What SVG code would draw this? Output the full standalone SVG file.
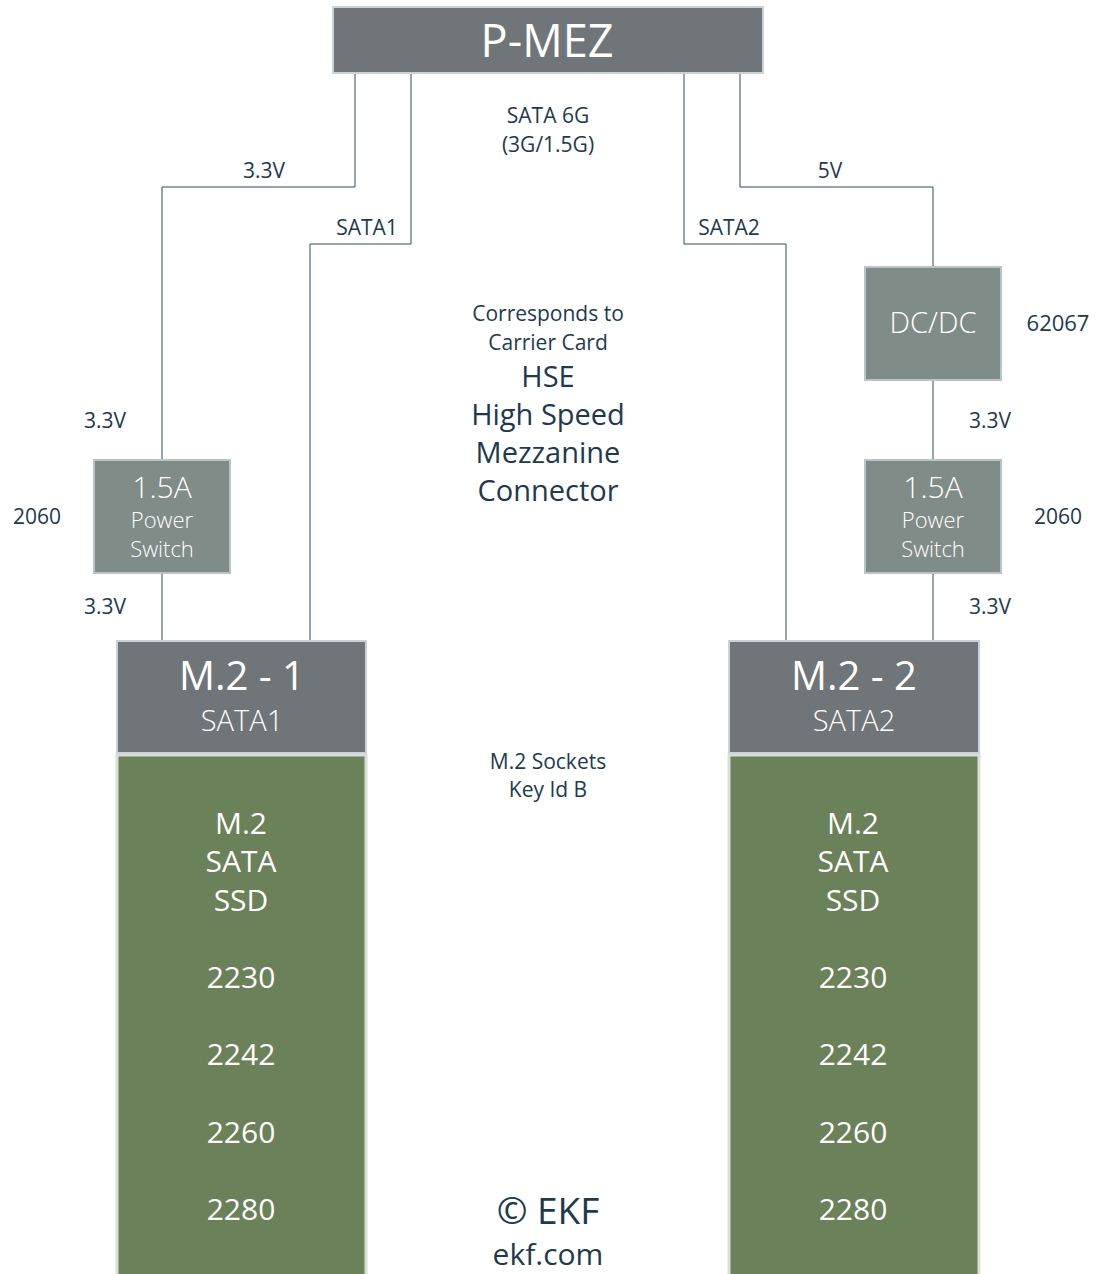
<svg xmlns="http://www.w3.org/2000/svg" width="1098" height="1274" viewBox="0 0 1098 1274">
<style>
.t{font-family:"Open Sans","Noto Sans",sans-serif;fill:#1e3a4f;text-anchor:middle}
.w{font-family:"Open Sans","Noto Sans",sans-serif;fill:#ffffff;text-anchor:middle}
.l{font-weight:300}
.hdr{fill:#6f7578;stroke:#c9d2d7;stroke-width:2}
.box{fill:#7f8c87;stroke:#b9c4c8;stroke-width:2}
.grn{fill:#6a815a;stroke:#d7dfd9;stroke-width:3}
.ln{fill:none;stroke:#2c4a5e;stroke-width:1}
</style>
<rect width="1098" height="1274" fill="#ffffff"/>
<g id="connectors">
<polyline class="ln" points="355,74 355,187 162,187 162,460"/>
<polyline class="ln" points="411,74 411,244 310,244 310,641"/>
<polyline class="ln" points="684,74 684,244 786,244 786,641"/>
<polyline class="ln" points="740,74 740,187 933,187 933,267"/>
<line class="ln" x1="933" y1="380" x2="933" y2="460"/>
<line class="ln" x1="162" y1="573" x2="162" y2="641"/>
<line class="ln" x1="933" y1="573" x2="933" y2="641"/>
</g>
<g id="pmez">
<rect class="hdr" x="333" y="7" width="430" height="66"/>
<text class="w" x="547" y="57" font-size="45">P-MEZ</text>
</g>
<g id="labels">
<text class="t" x="264" y="178" font-size="21">3.3V</text>
<text class="t" x="367" y="235" font-size="21">SATA1</text>
<text class="t" x="548" y="123" font-size="21">SATA 6G</text>
<text class="t" x="548" y="152" font-size="21">(3G/1.5G)</text>
<text class="t" x="729" y="235" font-size="21">SATA2</text>
<text class="t" x="830" y="178" font-size="21">5V</text>
<text class="t" x="1058" y="331" font-size="22">62067</text>
<text class="t" x="990" y="428" font-size="21">3.3V</text>
<text class="t" x="105" y="428" font-size="21">3.3V</text>
<text class="t" x="37" y="524" font-size="21">2060</text>
<text class="t" x="1058" y="524" font-size="21">2060</text>
<text class="t" x="105" y="614" font-size="21">3.3V</text>
<text class="t" x="990" y="614" font-size="21">3.3V</text>
<text class="t" x="548" y="321" font-size="21">Corresponds to</text>
<text class="t" x="548" y="350" font-size="21">Carrier Card</text>
<text class="t" x="548" y="387" font-size="29">HSE</text>
<text class="t" x="548" y="425" font-size="29">High Speed</text>
<text class="t" x="548" y="463" font-size="29">Mezzanine</text>
<text class="t" x="548" y="501" font-size="29">Connector</text>
<text class="t" x="548" y="769" font-size="21">M.2 Sockets</text>
<text class="t" x="548" y="797" font-size="21">Key Id B</text>
<text class="t" x="548" y="1224" font-size="37">© EKF</text>
<text class="t" x="548" y="1265" font-size="30">ekf.com</text>
</g>
<g id="dcdc">
<rect class="box" x="865" y="267" width="136" height="113"/>
<text class="w l" x="933" y="333" font-size="29">DC/DC</text>
</g>
<g id="ps1">
<rect class="box" x="94" y="460" width="136" height="113"/>
<text class="w l" x="162" y="498" font-size="30">1.5A</text>
<text class="w l" x="162" y="528" font-size="22">Power</text>
<text class="w l" x="162" y="557" font-size="22">Switch</text>
</g>
<g id="ps2">
<rect class="box" x="865" y="460" width="136" height="113"/>
<text class="w l" x="933" y="498" font-size="30">1.5A</text>
<text class="w l" x="933" y="528" font-size="22">Power</text>
<text class="w l" x="933" y="557" font-size="22">Switch</text>
</g>
<g id="m2-1">
<rect class="hdr" x="117" y="641" width="249" height="112"/>
<text class="w" x="242" y="690" font-size="40">M.2 - 1</text>
<text class="w l" x="242" y="731" font-size="29">SATA1</text>
</g>
<g id="ssd1">
<rect class="grn" x="117" y="755" width="249" height="530"/>
<text class="w" x="241" y="834" font-size="30">M.2</text>
<text class="w" x="241" y="872" font-size="30">SATA</text>
<text class="w" x="241" y="911" font-size="30">SSD</text>
<text class="w" x="241" y="988" font-size="30">2230</text>
<text class="w" x="241" y="1065" font-size="30">2242</text>
<text class="w" x="241" y="1143" font-size="30">2260</text>
<text class="w" x="241" y="1220" font-size="30">2280</text>
</g>
<g id="m2-2">
<rect class="hdr" x="729" y="641" width="250" height="112" stroke-width="3"/>
<text class="w" x="854" y="690" font-size="40">M.2 - 2</text>
<text class="w l" x="854" y="731" font-size="29">SATA2</text>
</g>
<g id="ssd2">
<rect class="grn" x="729" y="755" width="250" height="530"/>
<text class="w" x="853" y="834" font-size="30">M.2</text>
<text class="w" x="853" y="872" font-size="30">SATA</text>
<text class="w" x="853" y="911" font-size="30">SSD</text>
<text class="w" x="853" y="988" font-size="30">2230</text>
<text class="w" x="853" y="1065" font-size="30">2242</text>
<text class="w" x="853" y="1143" font-size="30">2260</text>
<text class="w" x="853" y="1220" font-size="30">2280</text>
</g>
</svg>
